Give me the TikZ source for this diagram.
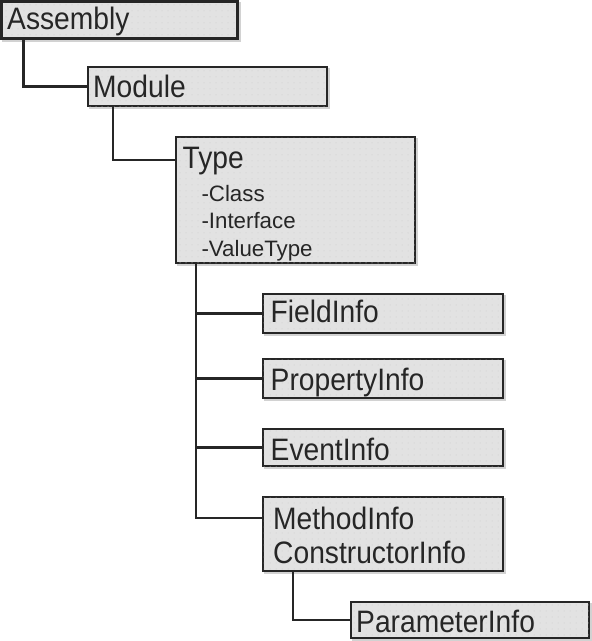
\documentclass[tikz,border=0pt]{standalone}
\usepackage{fontspec}
\setmainfont{Liberation Sans}
\newfontfamily\bigfont{Liberation Sans}[FakeStretch=0.91]
\usetikzlibrary{calc,patterns.meta}
\definecolor{boxfill}{HTML}{E2E2E2}
\definecolor{dotc}{HTML}{CACACA}
\definecolor{shadowc}{HTML}{D2D2D2}
\definecolor{ink}{HTML}{262626}
\tikzset{
  box/.style={draw=ink, line width=2.8pt, fill=boxfill, inner sep=0pt, outer sep=0pt, anchor=north west,
    preaction={draw=shadowc, fill=shadowc, transform canvas={shift={(2pt,-2pt)}}},
    postaction={pattern={Dots[distance=6pt, radius=0.5pt]}, pattern color=dotc}},
  big/.style={inner sep=0pt, anchor=base west, text=ink, font=\bigfont\fontsize{31}{34}\selectfont},
  small/.style={inner sep=0pt, anchor=base west, text=ink, font=\fontsize{22.3}{25}\selectfont},
  link/.style={draw=ink, line width=2.2pt}
}
\begin{document}
\begin{tikzpicture}[x=1pt,y=-1pt]
\useasboundingbox (0,0) rectangle (592,641);
% boxes
\node[box, minimum width=236pt, minimum height=37pt] (asm) at (1.4,1.4) {};
\node[box, minimum width=239pt, minimum height=39pt] (mod) at (88,67) {};
\node[box, minimum width=239pt, minimum height=126pt] (typ) at (176,137) {};
\node[box, minimum width=240pt, minimum height=39pt] (fld) at (263,294) {};
\node[box, minimum width=240pt, minimum height=39pt] (prp) at (263,359) {};
\node[box, minimum width=240pt, minimum height=37pt] (evt) at (263,429) {};
\node[box, minimum width=240pt, minimum height=74pt] (mth) at (263,497) {};
\node[box, minimum width=238pt, minimum height=36pt] (par) at (351,602) {};
% texts
\node[big] (asmT) at (7,29.5) {Assembly};
\node[big] (modT) at (93,97.5) {Module};
\node[big] (typT) at (182.5,168) {Type};
\node[small] (typA) at (201.3,201) {-Class};
\node[small] (typB) at (201.3,228.3) {-Interface};
\node[small] (typC) at (201.3,256) {-ValueType};
\node[big] (fldT) at (270.5,322) {FieldInfo};
\node[big] (prpT) at (270.5,390) {PropertyInfo};
\node[big] (evtT) at (270.5,460) {EventInfo};
\node[big] (mthT) at (273,529) {MethodInfo};
\node[big] (mthU) at (273,563) {ConstructorInfo};
\node[big] (parT) at (356,632) {ParameterInfo};
% connectors
\draw[link] ($(asm.south west)+(22,0)$) |- (mod.west);
\draw[link] ($(mod.south west)+(25,0)$) |- ($(typ.north west)+(0,23)$);
\coordinate (trunkTop) at ($(typ.south west)+(20,0)$);
\coordinate (trunkEnd) at ($(mth.north west)+(0,21)$);
\draw[link] (trunkTop) |- (trunkEnd);
\draw[link] (trunkTop |- fld.west) -- (fld.west);
\draw[link] (trunkTop |- prp.west) -- (prp.west);
\draw[link] (trunkTop |- evt.west) -- (evt.west);
\draw[link] ($(mth.south west)+(30,0)$) |- (par.west);
\end{tikzpicture}
\end{document}
